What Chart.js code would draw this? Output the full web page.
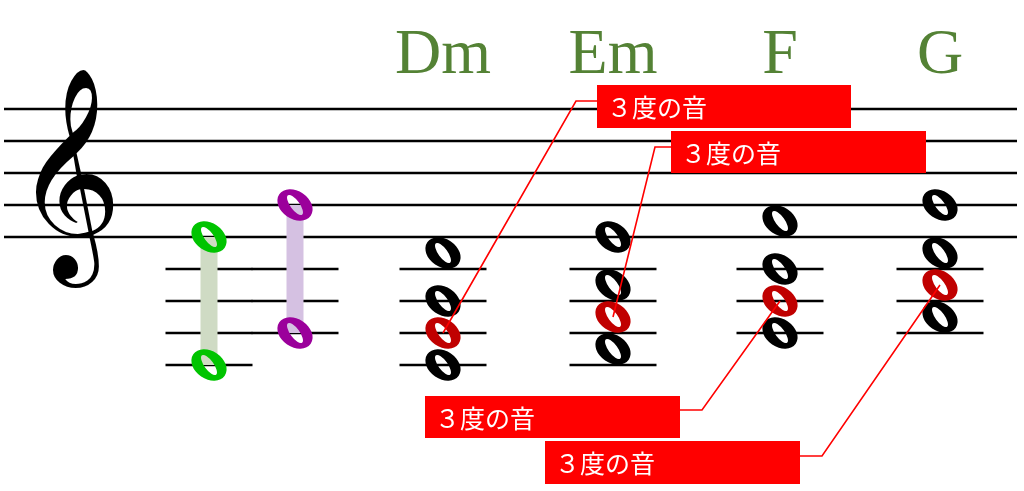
<!DOCTYPE html>
<html>
<head>
<meta charset="utf-8">
<script src="https://cdn.jsdelivr.net/npm/chart.js@4.4.1/dist/chart.umd.min.js"></script>
<style>
  html, body { margin: 0; padding: 0; background: #fff; }
  #wrap { width: 1024px; height: 491px; }
</style>
</head>
<body>
<div id="wrap"><canvas id="sheet" width="1024" height="491"></canvas></div>
<script>
// ====================== DATA ======================
// note heights are staff steps: 0 = bottom staff line, one step = half a line gap
const chordNames = ['Dm', 'Em', 'F', 'G'];
const chordX = [443, 613, 780, 940];
const chordSteps = [[-1, -4, -6, -8], [0, -3, -5, -7], [1, -2, -4, -6], [2, -1, -3, -5]];
const thirdIndex = [2, 2, 2, 2];          // which note of each chord is the 3rd
const greenX = 209;
const greenSteps = [0, -8];
const purpleX = 295;
const purpleSteps = [2, -6];
const staffSteps = [0, 2, 4, 6, 8];
const calloutText = '３度の音';

// ====================== LAYOUT ======================
const W = 1024, H = 491;
const STEP_PX = 16, BOTTOM_LINE_Y = 237;
const yMax = BOTTOM_LINE_Y / STEP_PX;
const yMin = (BOTTOM_LINE_Y - H) / STEP_PX;
const LEDGER_HALF = 43.5;

// callout boxes, one per chord (pixel layout)
const boxes = [
  { x: 597, y: 85,  w: 254, h: 43, side: 'left',  elbow: 576, ly: 101 },
  { x: 671, y: 131, w: 255, h: 42, side: 'left',  elbow: 655, ly: 147 },
  { x: 425, y: 396, w: 255, h: 42, side: 'right', elbow: 702, ly: 410 },
  { x: 545, y: 441, w: 255, h: 43, side: 'right', elbow: 822, ly: 456 }
];

// ====================== HELPERS ======================
// whole note head drawn once into a small canvas, used as the point style
function noteImage(color) {
  const c = document.createElement('canvas');
  c.width = 42; c.height = 38;
  const g = c.getContext('2d');
  g.fillStyle = color;
  g.beginPath();
  g.ellipse(21, 19, 19, 14, Math.PI * 0.19, 0, Math.PI * 2);
  g.fill();
  g.globalCompositeOperation = 'destination-out';
  g.beginPath();
  g.ellipse(21, 19, 12, 4.6, Math.PI * 0.3, 0, Math.PI * 2);
  g.fill();
  return c;
}

function lineSet(points, color, width, order) {
  return {
    type: 'line', data: points, borderColor: color, borderWidth: width,
    pointRadius: 0, fill: false, tension: 0, borderCapStyle: 'butt', order: order
  };
}

function noteSet(points, color) {
  return {
    type: 'scatter', data: points, pointStyle: noteImage(color),
    pointRadius: 12, order: 0
  };
}

// ====================== DATASETS ======================
const datasets = [];

staffSteps.forEach(s => datasets.push(lineSet([{ x: 4, y: s }, { x: 1017, y: s }], '#000', 2.6, 3)));

// ledger lines below the staff, down to the lowest note of each column
const columns = [{ x: greenX, steps: greenSteps }, { x: purpleX, steps: purpleSteps }]
  .concat(chordX.map((x, i) => ({ x: x, steps: chordSteps[i] })));
columns.forEach(col => {
  const low = Math.min(...col.steps) - 1;
  for (let s = -2; s >= low; s -= 2) {
    datasets.push(lineSet([{ x: col.x - LEDGER_HALF, y: s }, { x: col.x + LEDGER_HALF, y: s }], '#000', 2.6, 3));
  }
});

// interval shading
datasets.push(lineSet(greenSteps.map(s => ({ x: greenX, y: s })), '#cfdbc4', 17, 1));
datasets.push(lineSet(purpleSteps.map(s => ({ x: purpleX, y: s })), '#d5c1e2', 17, 1));

const blackNotes = [], redNotes = [];
chordSteps.forEach((steps, i) => steps.forEach((s, j) => {
  (j === thirdIndex[i] ? redNotes : blackNotes).push({ x: chordX[i], y: s });
}));
datasets.push(noteSet(blackNotes, '#000'));
datasets.push(noteSet(redNotes, '#c00000'));
datasets.push(noteSet(greenSteps.map(s => ({ x: greenX, y: s })), '#00c400'));
datasets.push(noteSet(purpleSteps.map(s => ({ x: purpleX, y: s })), '#9b009b'));

// ====================== DECOR PLUGIN ======================
const sheetDecor = {
  id: 'sheetDecor',
  afterDatasetsDraw(chart) {
    const ctx = chart.ctx;
    const xs = chart.scales.x, ys = chart.scales.y;

    // treble clef
    ctx.save();
    ctx.font = '100px "DejaVu Sans"';
    const m = ctx.measureText('𝄞');
    const size = 218 / (m.actualBoundingBoxAscent + m.actualBoundingBoxDescent) * 100;
    ctx.font = size + 'px "DejaVu Sans"';
    const m2 = ctx.measureText('𝄞');
    ctx.fillStyle = '#000';
    ctx.fillText('𝄞', 35 + m2.actualBoundingBoxLeft, 70 + m2.actualBoundingBoxAscent);
    ctx.restore();

    // chord names
    ctx.save();
    ctx.font = '64px "Liberation Serif"';
    ctx.fillStyle = '#548235';
    ctx.textAlign = 'center';
    chordNames.forEach((n, i) => ctx.fillText(n, xs.getPixelForValue(chordX[i]), 73));
    ctx.restore();

    // leader lines + callout boxes
    ctx.save();
    ctx.strokeStyle = '#ff0000';
    ctx.lineWidth = 1.6;
    boxes.forEach((b, i) => {
      const nx = xs.getPixelForValue(chordX[i]);
      const ny = ys.getPixelForValue(chordSteps[i][thirdIndex[i]]);
      const ax = b.side === 'left' ? b.x : b.x + b.w;
      ctx.beginPath();
      ctx.moveTo(ax, b.ly);
      ctx.lineTo(b.elbow, b.ly);
      ctx.lineTo(nx, ny);
      ctx.stroke();
    });
    ctx.font = '25px "Noto Sans CJK JP"';
    ctx.textBaseline = 'middle';
    boxes.forEach(b => {
      ctx.fillStyle = '#ff0000';
      ctx.fillRect(b.x, b.y, b.w, b.h);
      ctx.fillStyle = '#ffffff';
      ctx.fillText(calloutText, b.x + 10, b.y + b.h / 2 + 1);
    });
    ctx.restore();
  }
};

// ====================== CHART ======================
new Chart(document.getElementById('sheet'), {
  type: 'scatter',
  data: { datasets: datasets },
  options: {
    responsive: false,
    animation: false,
    events: [],
    layout: { padding: 0, autoPadding: false },
    scales: {
      x: { type: 'linear', min: 0, max: W, display: false },
      y: { type: 'linear', min: yMin, max: yMax, display: false }
    },
    plugins: { legend: { display: false }, tooltip: { enabled: false } }
  },
  plugins: [sheetDecor]
});
</script>
</body>
</html>
